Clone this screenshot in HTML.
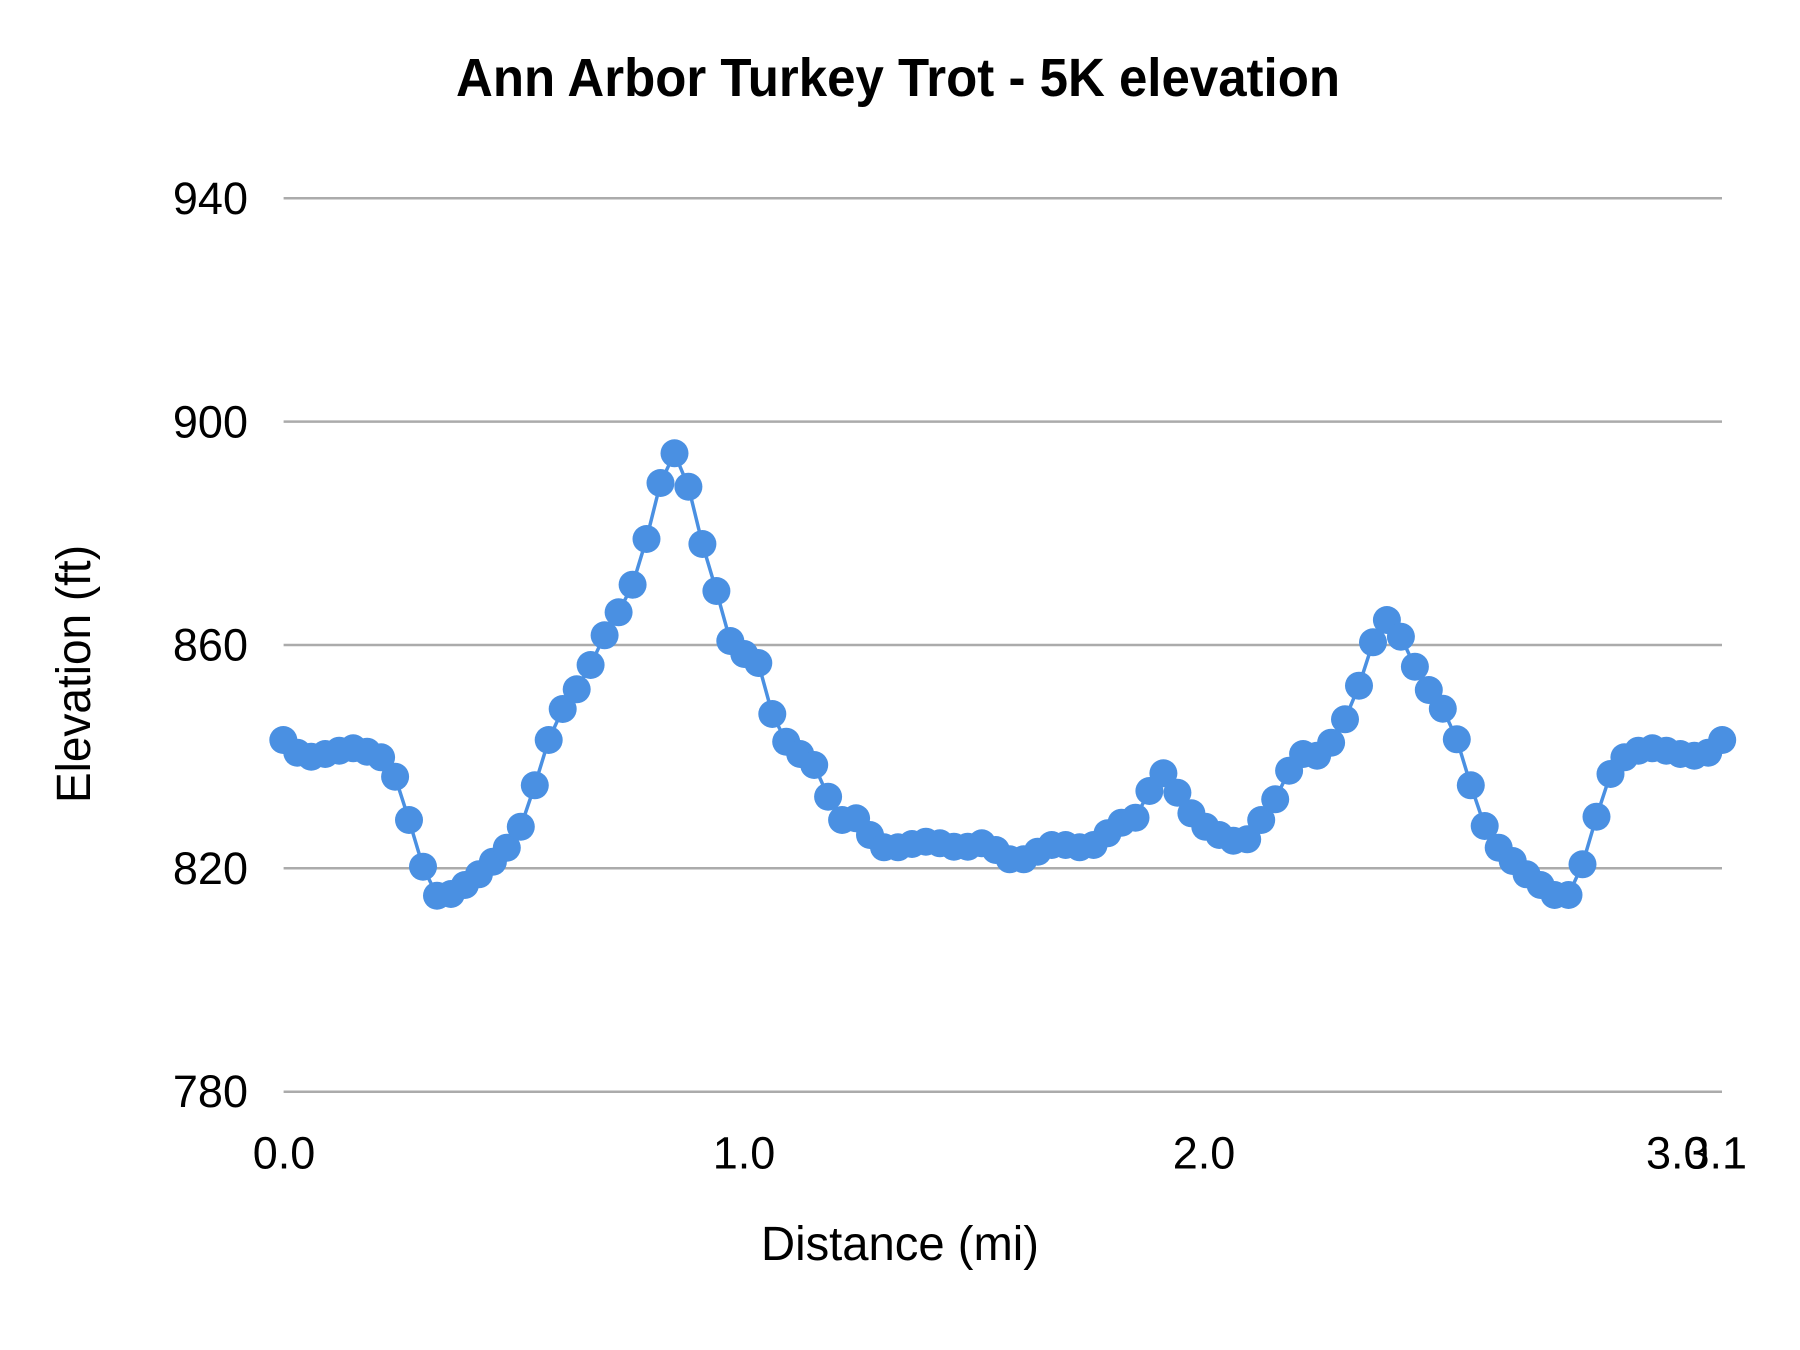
<!DOCTYPE html>
<html>
<head>
<meta charset="utf-8">
<style>
  html, body { margin: 0; padding: 0; background: #ffffff; }
  svg { display: block; }
  text { font-family: "Liberation Sans", Arial, sans-serif; fill: #000; }
</style>
</head>
<body>
<svg width="1800" height="1350" viewBox="0 0 1800 1350" xmlns="http://www.w3.org/2000/svg">
  <defs>
    <circle id="m" cx="0" cy="0" r="14" fill="#4a90e2"/>
  </defs>
  <rect x="0" y="0" width="1800" height="1350" fill="#ffffff"/>

  <text x="898" y="96" text-anchor="middle" font-size="54" font-weight="bold" textLength="884" lengthAdjust="spacingAndGlyphs">Ann Arbor Turkey Trot - 5K elevation</text>

  <g stroke="#ababab" stroke-width="2.5">
    <line x1="283.6" y1="198.3" x2="1722" y2="198.3"/>
    <line x1="283.6" y1="421.6" x2="1722" y2="421.6"/>
    <line x1="283.6" y1="645" x2="1722" y2="645"/>
    <line x1="283.6" y1="868.3" x2="1722" y2="868.3"/>
    <line x1="283.6" y1="1091.7" x2="1722" y2="1091.7"/>
  </g>

  <g font-size="45" text-anchor="end">
    <text x="248" y="214">940</text>
    <text x="248" y="437.3">900</text>
    <text x="248" y="660.5">860</text>
    <text x="248" y="883.8">820</text>
    <text x="248" y="1107.2">780</text>
  </g>

  <g font-size="45">
    <text x="284" y="1168.5" text-anchor="middle">0.0</text>
    <text x="744" y="1168.5" text-anchor="middle">1.0</text>
    <text x="1204" y="1168.5" text-anchor="middle">2.0</text>
    <text x="1646" y="1168.5" text-anchor="start">3.0</text>
    <text x="1747" y="1168.5" text-anchor="end">3.1</text>
  </g>

  <text x="900" y="1260" text-anchor="middle" font-size="48" textLength="278" lengthAdjust="spacingAndGlyphs">Distance (mi)</text>
  <text transform="translate(90,674) rotate(-90)" x="0" y="0" text-anchor="middle" font-size="48" textLength="258" lengthAdjust="spacingAndGlyphs">Elevation (ft)</text>

  <polyline fill="none" stroke="#4a90e2" stroke-width="3.5" stroke-linejoin="round" points="283.3,740 297.3,752.7 311.2,756.7 325.2,754 339.2,750.7 353.2,748.3 367.1,751.7 381.1,757.3 395.1,776.7 409.0,820 423.0,866.7 437.0,895.7 450.9,894 464.9,885 478.9,874.3 492.9,861.7 506.8,847.7 520.8,826.7 534.8,785.3 548.7,740 562.7,709 576.7,689.3 590.6,665 604.6,635.3 618.6,612.3 632.6,584.7 646.5,539 660.5,483 674.5,453.3 688.4,486.7 702.4,544 716.4,591 730.3,641 744.3,654 758.3,663 772.3,714 786.2,741.7 800.2,754 814.2,765 828.1,796.7 842.1,820 856.1,818.3 870.0,835 884.0,847.3 898.0,847.3 912.0,844 925.9,841.7 939.9,843.3 953.9,846.7 967.8,846.7 981.8,843.3 995.8,850 1009.7,859.3 1023.7,859.3 1037.7,851.7 1051.7,845 1065.6,845 1079.6,847.3 1093.6,845 1107.5,833.3 1121.5,822.7 1135.5,817.7 1149.4,791 1163.4,773.3 1177.4,792.7 1191.4,813.3 1205.3,826.7 1219.3,835 1233.3,840.7 1247.2,839.3 1261.2,820 1275.2,799.3 1289.1,770.7 1303.1,754 1317.1,755.7 1331.1,742.7 1345.0,719.3 1359.0,685.7 1373.0,642.3 1386.9,620 1400.9,636.7 1414.9,666.7 1428.8,690 1442.8,708.7 1456.8,739.3 1470.8,785.3 1484.7,826 1498.7,847.7 1512.7,861 1526.6,874.3 1540.6,885 1554.6,895 1568.5,895 1582.5,864.3 1596.5,816.7 1610.5,774 1624.4,757.3 1638.4,750.7 1652.4,748.3 1666.3,750.7 1680.3,754 1694.3,755.7 1708.2,752.7 1722.2,740"/>

  <g>
    <use href="#m" x="283.3" y="740"/>
    <use href="#m" x="297.3" y="752.7"/>
    <use href="#m" x="311.2" y="756.7"/>
    <use href="#m" x="325.2" y="754"/>
    <use href="#m" x="339.2" y="750.7"/>
    <use href="#m" x="353.2" y="748.3"/>
    <use href="#m" x="367.1" y="751.7"/>
    <use href="#m" x="381.1" y="757.3"/>
    <use href="#m" x="395.1" y="776.7"/>
    <use href="#m" x="409.0" y="820"/>
    <use href="#m" x="423.0" y="866.7"/>
    <use href="#m" x="437.0" y="895.7"/>
    <use href="#m" x="450.9" y="894"/>
    <use href="#m" x="464.9" y="885"/>
    <use href="#m" x="478.9" y="874.3"/>
    <use href="#m" x="492.9" y="861.7"/>
    <use href="#m" x="506.8" y="847.7"/>
    <use href="#m" x="520.8" y="826.7"/>
    <use href="#m" x="534.8" y="785.3"/>
    <use href="#m" x="548.7" y="740"/>
    <use href="#m" x="562.7" y="709"/>
    <use href="#m" x="576.7" y="689.3"/>
    <use href="#m" x="590.6" y="665"/>
    <use href="#m" x="604.6" y="635.3"/>
    <use href="#m" x="618.6" y="612.3"/>
    <use href="#m" x="632.6" y="584.7"/>
    <use href="#m" x="646.5" y="539"/>
    <use href="#m" x="660.5" y="483"/>
    <use href="#m" x="674.5" y="453.3"/>
    <use href="#m" x="688.4" y="486.7"/>
    <use href="#m" x="702.4" y="544"/>
    <use href="#m" x="716.4" y="591"/>
    <use href="#m" x="730.3" y="641"/>
    <use href="#m" x="744.3" y="654"/>
    <use href="#m" x="758.3" y="663"/>
    <use href="#m" x="772.3" y="714"/>
    <use href="#m" x="786.2" y="741.7"/>
    <use href="#m" x="800.2" y="754"/>
    <use href="#m" x="814.2" y="765"/>
    <use href="#m" x="828.1" y="796.7"/>
    <use href="#m" x="842.1" y="820"/>
    <use href="#m" x="856.1" y="818.3"/>
    <use href="#m" x="870.0" y="835"/>
    <use href="#m" x="884.0" y="847.3"/>
    <use href="#m" x="898.0" y="847.3"/>
    <use href="#m" x="912.0" y="844"/>
    <use href="#m" x="925.9" y="841.7"/>
    <use href="#m" x="939.9" y="843.3"/>
    <use href="#m" x="953.9" y="846.7"/>
    <use href="#m" x="967.8" y="846.7"/>
    <use href="#m" x="981.8" y="843.3"/>
    <use href="#m" x="995.8" y="850"/>
    <use href="#m" x="1009.7" y="859.3"/>
    <use href="#m" x="1023.7" y="859.3"/>
    <use href="#m" x="1037.7" y="851.7"/>
    <use href="#m" x="1051.7" y="845"/>
    <use href="#m" x="1065.6" y="845"/>
    <use href="#m" x="1079.6" y="847.3"/>
    <use href="#m" x="1093.6" y="845"/>
    <use href="#m" x="1107.5" y="833.3"/>
    <use href="#m" x="1121.5" y="822.7"/>
    <use href="#m" x="1135.5" y="817.7"/>
    <use href="#m" x="1149.4" y="791"/>
    <use href="#m" x="1163.4" y="773.3"/>
    <use href="#m" x="1177.4" y="792.7"/>
    <use href="#m" x="1191.4" y="813.3"/>
    <use href="#m" x="1205.3" y="826.7"/>
    <use href="#m" x="1219.3" y="835"/>
    <use href="#m" x="1233.3" y="840.7"/>
    <use href="#m" x="1247.2" y="839.3"/>
    <use href="#m" x="1261.2" y="820"/>
    <use href="#m" x="1275.2" y="799.3"/>
    <use href="#m" x="1289.1" y="770.7"/>
    <use href="#m" x="1303.1" y="754"/>
    <use href="#m" x="1317.1" y="755.7"/>
    <use href="#m" x="1331.1" y="742.7"/>
    <use href="#m" x="1345.0" y="719.3"/>
    <use href="#m" x="1359.0" y="685.7"/>
    <use href="#m" x="1373.0" y="642.3"/>
    <use href="#m" x="1386.9" y="620"/>
    <use href="#m" x="1400.9" y="636.7"/>
    <use href="#m" x="1414.9" y="666.7"/>
    <use href="#m" x="1428.8" y="690"/>
    <use href="#m" x="1442.8" y="708.7"/>
    <use href="#m" x="1456.8" y="739.3"/>
    <use href="#m" x="1470.8" y="785.3"/>
    <use href="#m" x="1484.7" y="826"/>
    <use href="#m" x="1498.7" y="847.7"/>
    <use href="#m" x="1512.7" y="861"/>
    <use href="#m" x="1526.6" y="874.3"/>
    <use href="#m" x="1540.6" y="885"/>
    <use href="#m" x="1554.6" y="895"/>
    <use href="#m" x="1568.5" y="895"/>
    <use href="#m" x="1582.5" y="864.3"/>
    <use href="#m" x="1596.5" y="816.7"/>
    <use href="#m" x="1610.5" y="774"/>
    <use href="#m" x="1624.4" y="757.3"/>
    <use href="#m" x="1638.4" y="750.7"/>
    <use href="#m" x="1652.4" y="748.3"/>
    <use href="#m" x="1666.3" y="750.7"/>
    <use href="#m" x="1680.3" y="754"/>
    <use href="#m" x="1694.3" y="755.7"/>
    <use href="#m" x="1708.2" y="752.7"/>
    <use href="#m" x="1722.2" y="740"/>
  </g>
</svg>
</body>
</html>
